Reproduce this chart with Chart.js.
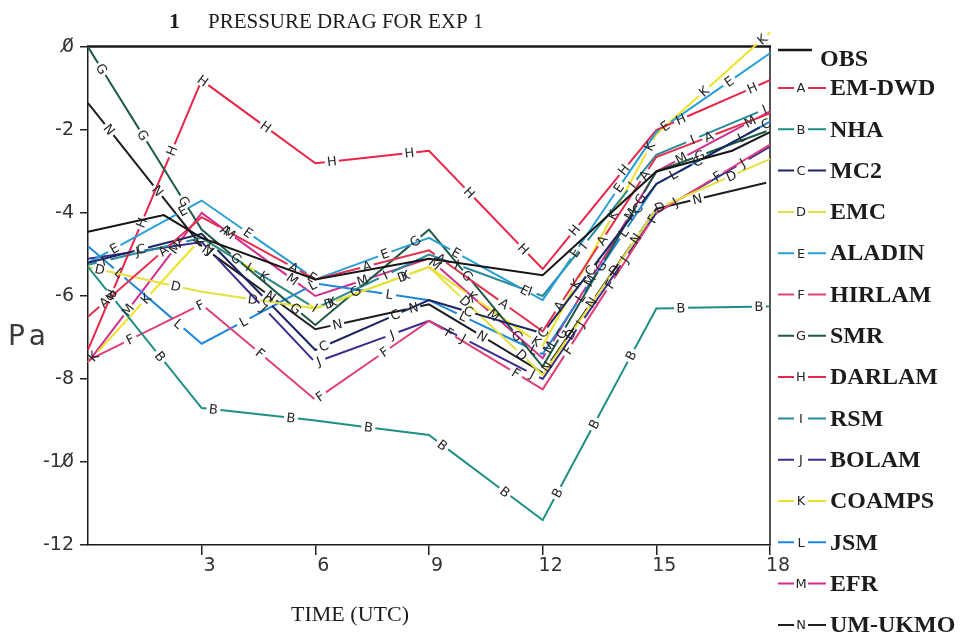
<!DOCTYPE html>
<html>
<head>
<meta charset="utf-8">
<title>Pressure drag for EXP 1</title>
<script src="https://cdn.jsdelivr.net/npm/chart.js@4.4.1/dist/chart.umd.min.js"></script>
<style>
	html, body { margin: 0; padding: 0; background: #fff; }
	#wrap { position: relative; width: 962px; height: 636px; }
</style>
</head>
<body>
<div id="wrap"><canvas id="drag-chart" width="962" height="636"></canvas></div>
<script>
( function() {
	'use strict';

	// Forecast hours used by every model run.
	var hours = [ 0, 3, 6, 9, 12, 15, 18 ];

	// Observed pressure drag (Pa) has its own sampling times.
	var obsHours = [ 0, 2, 3, 6, 9, 12, 15, 17, 18 ];
	var obsValues = [ -4.45, -4.05, -4.6, -5.6, -5.1, -5.5, -3.0, -2.5, -2.05 ];

	// Models, in legend order, with the letter written along each curve.
	var modelNames = [ 'EM-DWD', 'NHA', 'MC2', 'EMC', 'ALADIN', 'HIRLAM', 'SMR',
		'DARLAM', 'RSM', 'BOLAM', 'COAMPS', 'JSM', 'EFR', 'UM-UKMO' ];
	var modelLetters = [ 'A', 'B', 'C', 'D', 'E', 'F', 'G', 'H', 'I', 'J', 'K', 'L', 'M', 'N' ];

	// Pressure drag (Pa) per model at each forecast hour.
	var emDwd = [ -6.5, -4.1, -5.6, -4.9, -6.85, -2.65, -1.6 ];
	var nha = [ -5.3, -8.7, -9.0, -9.35, -11.4, -6.3, -6.25 ];
	var mc2 = [ -5.2, -4.5, -7.3, -6.1, -6.9, -3.3, -1.8 ];
	var emc = [ -5.3, -5.9, -6.3, -5.3, -7.9, -3.9, -2.7 ];
	var aladin = [ -5.2, -3.7, -5.6, -4.6, -6.1, -2.05, -0.15 ];
	var hirlam = [ -7.55, -6.2, -8.5, -6.6, -8.25, -4.0, -2.35 ];
	var smr = [ 0.0, -4.4, -6.7, -4.4, -7.7, -3.0, -2.0 ];
	var darlam = [ -7.3, -0.8, -2.8, -2.5, -5.35, -2.0, -0.8 ];
	var rsm = [ -5.25, -4.6, -6.3, -5.0, -6.0, -2.6, -1.45 ];
	var bolam = [ -5.1, -4.7, -7.6, -6.6, -8.0, -4.0, -2.4 ];
	var coamps = [ -7.6, -4.6, -6.3, -5.3, -7.2, -2.1, 0.35 ];
	var jsm = [ -4.8, -7.15, -5.7, -6.1, -7.4, -3.3, -1.8 ];
	var efr = [ -7.6, -4.0, -6.0, -5.1, -7.5, -3.0, -1.55 ];
	var umUkmo = [ -1.35, -4.8, -6.8, -6.2, -7.85, -3.9, -3.25 ];

	var modelValues = [ emDwd, nha, mc2, emc, aladin, hirlam, smr,
		darlam, rsm, bolam, coamps, jsm, efr, umUkmo ];

	/**
	 * Line colours and where the first letter sits along each curve.
	 */
	var modelColors = [ '#e2304f', '#1f8f86', '#1b2560', '#e4e040', '#2a9fd6', '#e0407a', '#1e5a45',
		'#e8254a', '#2b8a9a', '#3b2d8f', '#efe126', '#1f86d8', '#d0308f', '#1e1e1e' ];
	var letterPhase = [ 22, 37, 55, 12, 30, 47, 26, 60, 16, 50, 8, 41, 66, 34 ];

	var LETTER_STEP = 78;
	var LETTER_GAP = 14;
	var LETTER_FONT = '13px "DejaVu Sans", sans-serif';
	var SERIF = '"Liberation Serif", "Times New Roman", serif';

	/**
	 * Pair an hours array with a values array as {x, y} points.
	 *
	 * @param {Array} xs Hours.
	 * @param {Array} ys Values.
	 * @return {Array} Points.
	 */
	function toPoints( xs, ys ) {
		return xs.map( function( x, i ) {
			return { x: x, y: ys[ i ] };
		} );
	}

	/**
	 * Build the datasets: the observations first, then every model.
	 *
	 * @return {Array} Chart.js datasets.
	 */
	function buildDatasets() {
		var sets = [ {
			label: 'OBS',
			data: toPoints( obsHours, obsValues ),
			borderColor: '#151515',
			borderWidth: 2,
			clip: false
		} ];

		modelNames.forEach( function( name, i ) {
			sets.push( {
				label: name,
				letter: modelLetters[ i ],
				letterPhase: letterPhase[ i ],
				data: toPoints( hours, modelValues[ i ] ),
				borderColor: modelColors[ i ],
				borderWidth: 2,
				// Leave a gap in the stroke wherever a letter is written.
				borderDash: [ LETTER_STEP - LETTER_GAP, LETTER_GAP ],
				borderDashOffset: LETTER_STEP - LETTER_GAP / 2 - letterPhase[ i ],
				clip: false
			} );
		} );

		return sets;
	}

	/**
	 * Write each model's letter in the gaps of its dashed curve.
	 */
	var curveLetters = {
		id: 'curveLetters',
		afterDatasetsDraw: function( chart ) {
			var ctx = chart.ctx;

			chart.data.datasets.forEach( function( ds, i ) {
				if ( ! ds.letter ) {
					return;
				}
				var pts = chart.getDatasetMeta( i ).data;
				var s = ds.letterPhase;
				var acc = 0;

				ctx.save();
				ctx.font = LETTER_FONT;
				ctx.fillStyle = '#262626';
				ctx.textAlign = 'center';
				ctx.textBaseline = 'middle';

				for ( var k = 1; k < pts.length; k++ ) {
					var x0 = pts[ k - 1 ].x;
					var y0 = pts[ k - 1 ].y;
					var dx = pts[ k ].x - x0;
					var dy = pts[ k ].y - y0;
					var len = Math.hypot( dx, dy );
					var ang = Math.atan2( dy, dx );

					if ( ang > Math.PI / 2 ) {
						ang -= Math.PI;
					} else if ( ang < -Math.PI / 2 ) {
						ang += Math.PI;
					}

					while ( s <= acc + len ) {
						var t = ( s - acc ) / len;
						ctx.save();
						ctx.translate( x0 + dx * t, y0 + dy * t );
						ctx.rotate( ang );
						ctx.fillText( ds.letter, 0, 1 );
						ctx.restore();
						s += LETTER_STEP;
					}
					acc += len;
				}
				ctx.restore();
			} );
		}
	};

	/**
	 * Top and right edges of the plot frame.
	 */
	var plotFrame = {
		id: 'plotFrame',
		beforeDatasetsDraw: function( chart ) {
			var a = chart.chartArea;
			var ctx = chart.ctx;

			ctx.save();
			ctx.strokeStyle = '#1a1a1a';
			ctx.lineWidth = 2.5;
			ctx.beginPath();
			ctx.moveTo( a.left - 1, a.top - 0.5 );
			ctx.lineTo( a.right + 1, a.top - 0.5 );
			ctx.stroke();
			ctx.lineWidth = 1.5;
			ctx.beginPath();
			ctx.moveTo( a.right, a.top );
			ctx.lineTo( a.right, a.bottom );
			ctx.stroke();
			ctx.restore();
		}
	};

	/**
	 * Title, axis captions and the legend column on the right.
	 */
	var captions = {
		id: 'captions',
		afterDraw: function( chart ) {
			var ctx = chart.ctx;

			ctx.save();
			ctx.fillStyle = '#1c1c1c';
			ctx.textBaseline = 'alphabetic';
			ctx.textAlign = 'left';

			ctx.font = 'bold 22px ' + SERIF;
			ctx.fillText( '1', 169, 28 );
			ctx.font = '21px ' + SERIF;
			ctx.fillText( 'PRESSURE DRAG FOR EXP 1', 208, 28 );

			ctx.font = '22px ' + SERIF;
			ctx.textAlign = 'center';
			ctx.fillText( 'TIME (UTC)', 350, 621 );

			ctx.font = '28px "DejaVu Sans", sans-serif';
			ctx.fillStyle = '#3a3a3a';
			ctx.textAlign = 'left';
			ctx.textBaseline = 'middle';
			ctx.letterSpacing = '5px';
			ctx.fillText( 'Pa', 8, 338 );
			ctx.letterSpacing = '0px';

			// Legend: OBS as a plain line, models as -X- markers.
			ctx.fillStyle = '#1c1c1c';
			ctx.font = 'bold 24px ' + SERIF;
			ctx.strokeStyle = '#151515';
			ctx.lineWidth = 2.5;
			ctx.beginPath();
			ctx.moveTo( 778, 50 );
			ctx.lineTo( 812, 50 );
			ctx.stroke();
			ctx.fillText( 'OBS', 820, 60 );

			modelNames.forEach( function( name, i ) {
				var y = 88 + i * 41.3;
				ctx.strokeStyle = modelColors[ i ];
				ctx.lineWidth = 2;
				ctx.beginPath();
				ctx.moveTo( 778, y );
				ctx.lineTo( 794, y );
				ctx.moveTo( 808, y );
				ctx.lineTo( 826, y );
				ctx.stroke();

				ctx.font = LETTER_FONT;
				ctx.textAlign = 'center';
				ctx.fillStyle = '#262626';
				ctx.fillText( modelLetters[ i ], 801, y + 1 );

				ctx.font = 'bold 24px ' + SERIF;
				ctx.textAlign = 'left';
				ctx.fillStyle = '#1c1c1c';
				ctx.fillText( name, 830, y + 1 );
			} );

			ctx.restore();
		}
	};

	new Chart( document.getElementById( 'drag-chart' ), {
		type: 'line',
		data: { datasets: buildDatasets() },
		plugins: [ plotFrame, curveLetters, captions ],
		options: {
			responsive: false,
			animation: false,
			devicePixelRatio: 1,
			layout: {
				padding: { left: 0, top: 47, right: 192, bottom: 0 }
			},
			elements: {
				point: { radius: 0, hoverRadius: 0 },
				line: { tension: 0, borderCapStyle: 'butt', borderJoinStyle: 'miter' }
			},
			plugins: {
				legend: { display: false },
				tooltip: { enabled: false }
			},
			events: [],
			scales: {
				x: {
					type: 'linear',
					min: 0,
					max: 18,
					afterFit: function( scale ) {
						scale.height = 91;
					},
					ticks: {
						stepSize: 3,
						padding: 0,
						labelOffset: 8,
						font: { family: '"DejaVu Sans", sans-serif', size: 19 },
						color: '#333',
						callback: function( value ) {
							return value === 0 ? '' : String( value );
						}
					},
					grid: {
						drawOnChartArea: false,
						drawTicks: true,
						tickLength: 10,
						color: function( c ) {
							return c.tick && c.tick.value === 0 ? 'rgba(0,0,0,0)' : '#222';
						},
						lineWidth: 1.5
					},
					border: { display: true, color: '#1a1a1a', width: 1.5 }
				},
				y: {
					min: -12,
					max: 0,
					afterFit: function( scale ) {
						scale.width = 88;
					},
					ticks: {
						stepSize: 2,
						padding: 6,
						font: { family: '"DejaVu Sans", sans-serif', size: 19 },
						color: '#333',
						callback: function( value ) {
							// Zeros are printed slashed.
							return String( value ).replace( /0/g, '0\u0338' );
						}
					},
					grid: {
						drawOnChartArea: false,
						drawTicks: true,
						tickLength: 8,
						color: '#222',
						lineWidth: 1.5
					},
					border: { display: true, color: '#1a1a1a', width: 1.5 }
				}
			}
		}
	} );
} )();
</script>
</body>
</html>
